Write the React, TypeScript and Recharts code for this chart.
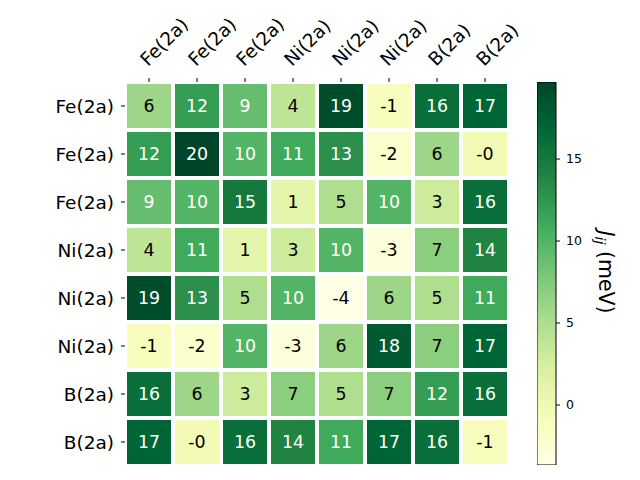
import React from 'react'
import {
  ScatterChart,
  Scatter,
  XAxis,
  YAxis,
  BarChart,
  Bar,
} from 'recharts'

const ROW_LABELS = ['Fe(2a)', 'Fe(2a)', 'Fe(2a)', 'Ni(2a)', 'Ni(2a)', 'Ni(2a)', 'B(2a)', 'B(2a)']
const COL_LABELS = ['Fe(2a)', 'Fe(2a)', 'Fe(2a)', 'Ni(2a)', 'Ni(2a)', 'Ni(2a)', 'B(2a)', 'B(2a)']

// J_ij matrix in meV, one row per site
const J_ROWS: number[][] = [
  [6, 12, 9, 4, 19, -1, 16, 17],
  [12, 19.7, 10, 11, 13, -2, 6, -0.3],
  [9, 10, 15, 1, 5, 10, 3, 16],
  [4, 11, 1, 3, 10, -3, 7, 14],
  [19, 13, 5, 10, -3.66, 6, 5, 11],
  [-1, -2, 10, -3, 6, 18, 7, 17],
  [16, 6, 3, 7, 5, 7, 12, 16],
  [17, -0.3, 16, 14, 11, 17, 16, -1],
]

const CBAR_TICKS = [0, 5, 10, 15]

// matplotlib YlGn
const YLGN = ['#ffffe5', '#f7fcb9', '#d9f0a3', '#addd8e', '#78c679', '#41ab5d', '#238443', '#006837', '#004529']

const FONT = '"DejaVu Sans", sans-serif'

const allVals = J_ROWS.flat()
const VMIN = Math.min(...allVals)
const VMAX = Math.max(...allVals)
const MID = (VMIN + VMAX) / 2

function hexToRgb(h: string) {
  return [1, 3, 5].map((i) => parseInt(h.slice(i, i + 2), 16))
}

function colorFor(v: number) {
  const t = Math.max(0, Math.min(1, (v - VMIN) / (VMAX - VMIN)))
  const pos = t * (YLGN.length - 1)
  const i = Math.min(Math.floor(pos), YLGN.length - 2)
  const f = pos - i
  const a = hexToRgb(YLGN[i])
  const b = hexToRgb(YLGN[i + 1])
  const c = a.map((x, k) => Math.round(x + (b[k] - x) * f))
  return `rgb(${c[0]},${c[1]},${c[2]})`
}

const cells = J_ROWS.flatMap((row, r) => row.map((v, c) => ({ x: c, y: r, v })))
const cbarData = [{ name: 'cbar', range: [VMIN, VMAX] }]

const IDX = [0, 1, 2, 3, 4, 5, 6, 7]
const CELL = 44

function Cell(props: any) {
  const { cx, cy, payload } = props
  const v: number = payload.v
  return (
    <g>
      <rect x={cx - CELL / 2} y={cy - CELL / 2} width={CELL} height={CELL} fill={colorFor(v)} />
      <text
        x={cx}
        y={cy}
        textAnchor="middle"
        dominantBaseline="central"
        fontFamily={FONT}
        fontSize={17.4}
        fill={v > MID ? '#ffffff' : '#000000'}
      >
        {v.toFixed(0)}
      </text>
    </g>
  )
}

function TopTick(props: any) {
  const { x, payload } = props
  const tx = x - 1
  const ty = 67
  return (
    <text
      x={tx}
      y={ty}
      transform={`rotate(-45, ${tx}, ${ty})`}
      textAnchor="start"
      fontFamily={FONT}
      fontSize={18.5}
      fill="#000"
    >
      {COL_LABELS[payload.value]}
    </text>
  )
}

function CbarLabel() {
  const x = 62
  const y = 272
  return (
    <text
      x={x}
      y={y}
      transform={`rotate(90, ${x}, ${y})`}
      textAnchor="middle"
      fontFamily={FONT}
      fontSize={20.5}
      fill="#000"
    >
      <tspan fontStyle="italic">J</tspan>
      <tspan fontStyle="italic" fontSize={14.5} dy={4}>ij</tspan>
      <tspan dy={-4}> (meV)</tspan>
    </text>
  )
}

export default function App() {
  return (
    <div style={{ position: 'absolute', left: 0, top: 0, width: 640, height: 480, background: '#fff' }}>
      <ScatterChart width={640} height={480} margin={{ top: 22, right: 131, bottom: 14, left: 0 }}>
        <XAxis
          type="number"
          dataKey="x"
          orientation="top"
          height={60}
          domain={[-0.5, 7.5]}
          ticks={IDX}
          interval={0}
          axisLine={false}
          tickSize={4}
          tickLine={{ stroke: '#000' }}
          tick={<TopTick />}
        />
        <YAxis
          type="number"
          dataKey="y"
          width={125}
          reversed
          domain={[-0.5, 7.5]}
          ticks={IDX}
          interval={0}
          axisLine={false}
          tickSize={4}
          tickMargin={7}
          tickLine={{ stroke: '#000' }}
          tickFormatter={(i: number) => ROW_LABELS[i]}
          tick={{ fontFamily: FONT, fontSize: 18.5, fill: '#000' }}
        />
        <Scatter data={cells} shape={<Cell />} isAnimationActive={false} />
      </ScatterChart>
      <div style={{ position: 'absolute', left: 537, top: 0 }}>
        <BarChart
          width={103}
          height={480}
          data={cbarData}
          barCategoryGap={0}
          margin={{ top: 82, right: 0, bottom: 15, left: 0 }}
        >
          <defs>
            <linearGradient id="cbar" x1="0" y1="1" x2="0" y2="0">
              {YLGN.map((c, i) => (
                <stop key={i} offset={i / (YLGN.length - 1)} stopColor={c} />
              ))}
            </linearGradient>
          </defs>
          <XAxis dataKey="name" hide />
          <YAxis
            type="number"
            orientation="right"
            width={84}
            domain={[VMIN, VMAX]}
            allowDataOverflow
            ticks={CBAR_TICKS}
            interval={0}
            axisLine={false}
            tickSize={4}
            tickMargin={6}
            tickLine={{ stroke: '#000' }}
            tick={{ fontFamily: FONT, fontSize: 12.5, fill: '#000' }}
            label={{ content: () => <CbarLabel /> }}
          />
          <Bar dataKey="range" fill="url(#cbar)" stroke="#000" strokeWidth={1} isAnimationActive={false} />
        </BarChart>
      </div>
    </div>
  )
}
